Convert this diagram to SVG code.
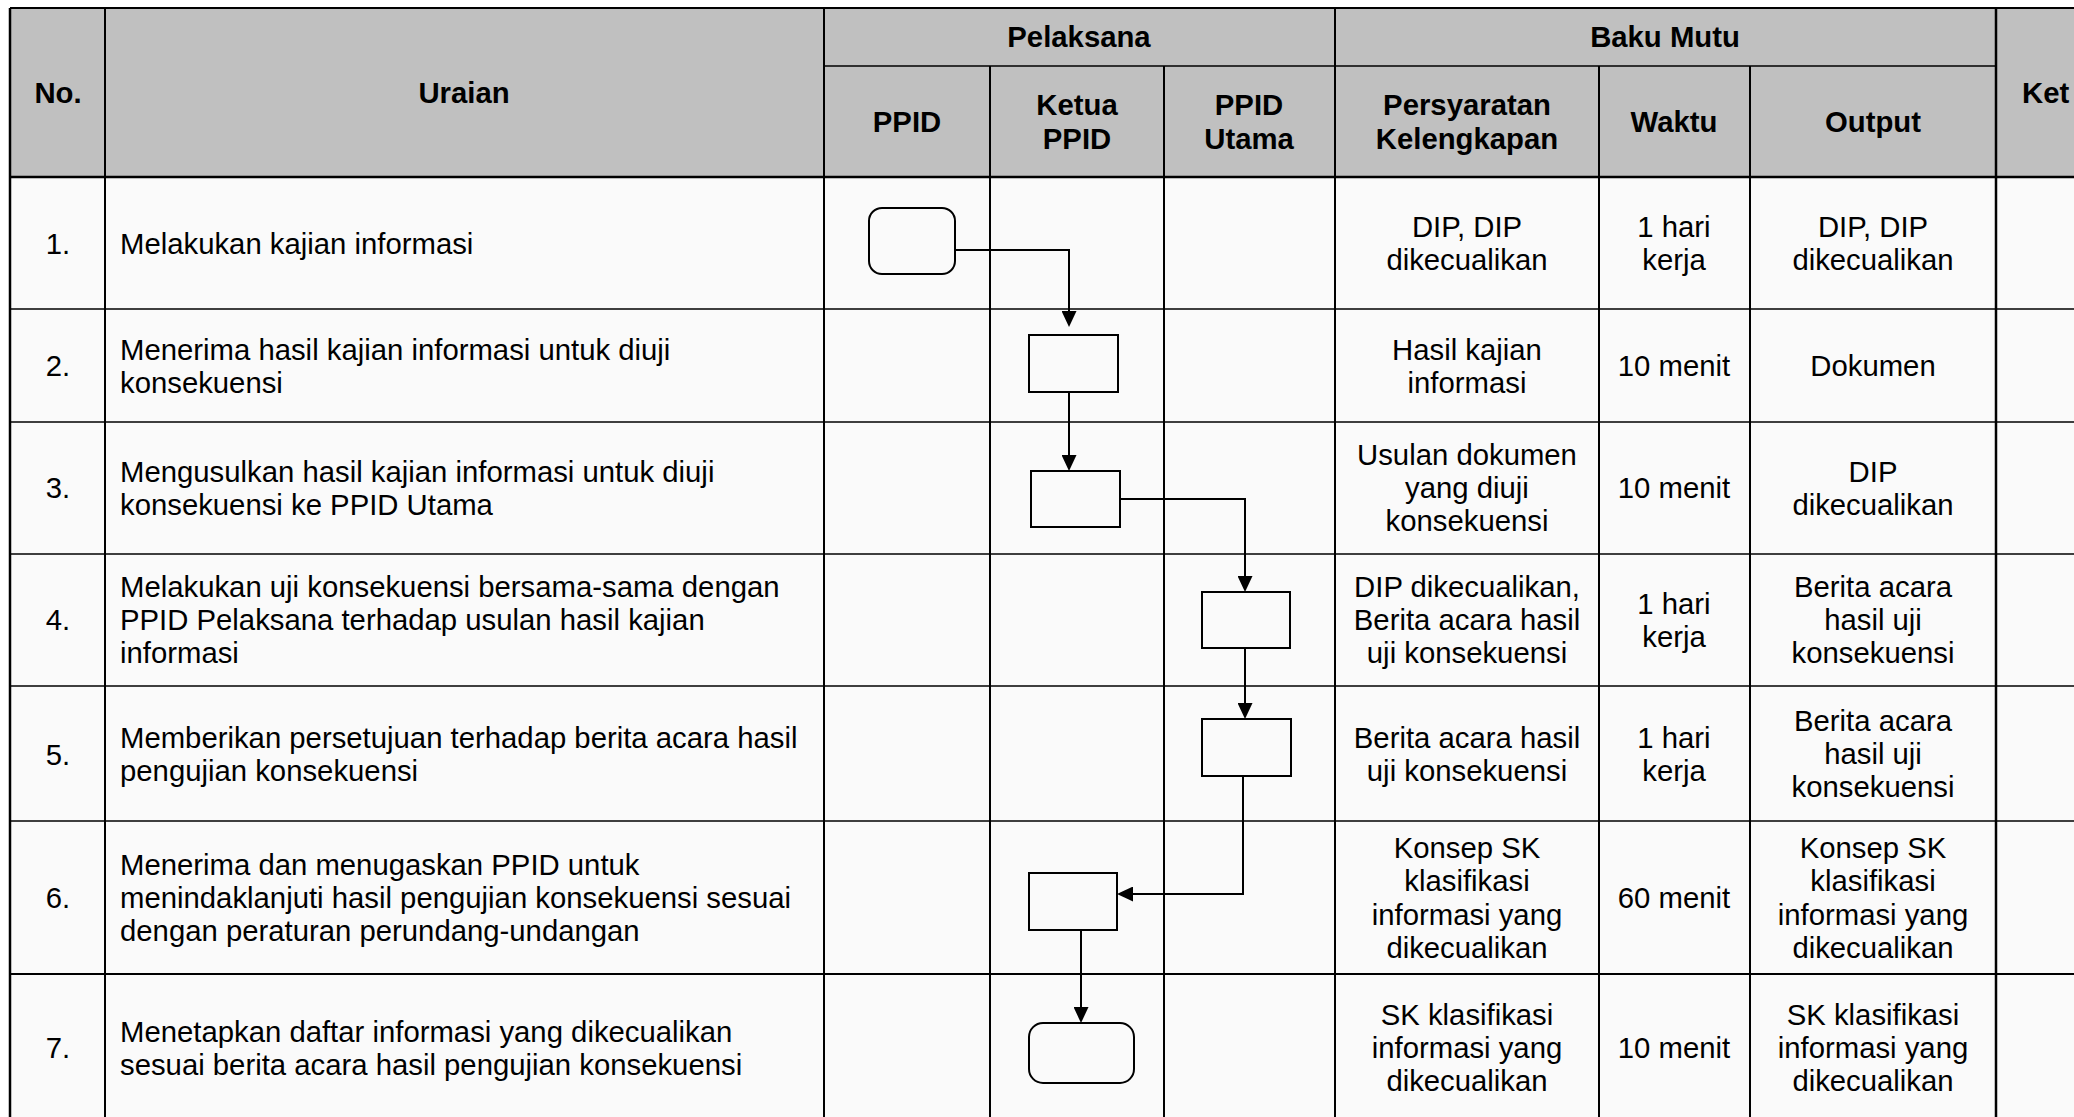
<svg xmlns="http://www.w3.org/2000/svg" width="2074" height="1117" viewBox="0 0 2074 1117">
<style>
text{font-family:"Liberation Sans",Arial,sans-serif;font-size:29.3px;fill:#000}
.h{font-weight:bold;text-anchor:middle}
.c{text-anchor:middle}
.grid line{stroke:#000;stroke-width:1.3}
.grid .v{stroke-width:2}
.grid .t{stroke-width:2.5}
.shape{fill:none;stroke:#000;stroke-width:2}
.conn path{fill:none;stroke:#000;stroke-width:2}
</style>
<defs>
<marker id="arr" markerUnits="userSpaceOnUse" markerWidth="16" markerHeight="15" refX="12" refY="7.5" orient="auto">
<path d="M0,0 L16,7.5 L0,15 z" fill="#000"/>
</marker>
</defs>
<rect x="0" y="0" width="2074" height="1117" fill="#fff"/>
<rect x="10" y="8" width="2064" height="169" fill="#c0c0c0"/>
<rect x="10" y="177" width="2064" height="940" fill="#fafafa"/>
<g class="grid">
<line class="v" x1="10" y1="8" x2="2074" y2="8"/>
<line x1="824" y1="66" x2="1996" y2="66"/>
<line class="t" x1="10" y1="177" x2="2074" y2="177"/>
<line x1="10" y1="309" x2="2074" y2="309"/>
<line x1="10" y1="422" x2="2074" y2="422"/>
<line x1="10" y1="554" x2="2074" y2="554"/>
<line x1="10" y1="686" x2="2074" y2="686"/>
<line x1="10" y1="821" x2="2074" y2="821"/>
<line class="v" x1="10" y1="974" x2="2074" y2="974"/>
<line class="t" x1="10" y1="8" x2="10" y2="1117"/>
<line class="v" x1="105" y1="8" x2="105" y2="1117"/>
<line class="v" x1="824" y1="8" x2="824" y2="1117"/>
<line class="v" x1="990" y1="66" x2="990" y2="1117"/>
<line class="v" x1="1164" y1="66" x2="1164" y2="1117"/>
<line class="v" x1="1335" y1="8" x2="1335" y2="1117"/>
<line class="v" x1="1599" y1="66" x2="1599" y2="1117"/>
<line class="v" x1="1750" y1="66" x2="1750" y2="1117"/>
<line class="t" x1="1996" y1="8" x2="1996" y2="1117"/>
</g>
<g id="header">
<text class="h" x="58" y="103">No.</text>
<text class="h" x="464" y="103">Uraian</text>
<text class="h" x="1079" y="47">Pelaksana</text>
<text class="h" x="1665" y="47">Baku Mutu</text>
<text x="2022" y="103" style="font-weight:bold">Ket</text>
<text class="h" x="907" y="132">PPID</text>
<text class="h" x="1077" y="115">Ketua</text>
<text class="h" x="1077" y="149">PPID</text>
<text class="h" x="1249" y="115">PPID</text>
<text class="h" x="1249" y="149">Utama</text>
<text class="h" x="1467" y="115">Persyaratan</text>
<text class="h" x="1467" y="149">Kelengkapan</text>
<text class="h" x="1674" y="132">Waktu</text>
<text class="h" x="1873" y="132">Output</text>
</g>
<g id="row1">
<text class="c" x="58" y="254">1.</text>
<text x="120" y="254">Melakukan kajian informasi</text>
<text class="c" x="1467" y="237">DIP, DIP</text>
<text class="c" x="1467" y="270">dikecualikan</text>
<text class="c" x="1674" y="237">1 hari</text>
<text class="c" x="1674" y="270">kerja</text>
<text class="c" x="1873" y="237">DIP, DIP</text>
<text class="c" x="1873" y="270">dikecualikan</text>
</g>
<g id="row2">
<text class="c" x="58" y="376">2.</text>
<text x="120" y="360">Menerima hasil kajian informasi untuk diuji</text>
<text x="120" y="393">konsekuensi</text>
<text class="c" x="1467" y="360">Hasil kajian</text>
<text class="c" x="1467" y="393">informasi</text>
<text class="c" x="1674" y="376">10 menit</text>
<text class="c" x="1873" y="376">Dokumen</text>
</g>
<g id="row3">
<text class="c" x="58" y="498">3.</text>
<text x="120" y="482">Mengusulkan hasil kajian informasi untuk diuji</text>
<text x="120" y="515">konsekuensi ke PPID Utama</text>
<text class="c" x="1467" y="465">Usulan dokumen</text>
<text class="c" x="1467" y="498">yang diuji</text>
<text class="c" x="1467" y="531">konsekuensi</text>
<text class="c" x="1674" y="498">10 menit</text>
<text class="c" x="1873" y="482">DIP</text>
<text class="c" x="1873" y="515">dikecualikan</text>
</g>
<g id="row4">
<text class="c" x="58" y="630">4.</text>
<text x="120" y="597">Melakukan uji konsekuensi bersama-sama dengan</text>
<text x="120" y="630">PPID Pelaksana terhadap usulan hasil kajian</text>
<text x="120" y="663">informasi</text>
<text class="c" x="1467" y="597">DIP dikecualikan,</text>
<text class="c" x="1467" y="630">Berita acara hasil</text>
<text class="c" x="1467" y="663">uji konsekuensi</text>
<text class="c" x="1674" y="614">1 hari</text>
<text class="c" x="1674" y="647">kerja</text>
<text class="c" x="1873" y="597">Berita acara</text>
<text class="c" x="1873" y="630">hasil uji</text>
<text class="c" x="1873" y="663">konsekuensi</text>
</g>
<g id="row5">
<text class="c" x="58" y="765">5.</text>
<text x="120" y="748">Memberikan persetujuan terhadap berita acara hasil</text>
<text x="120" y="781">pengujian konsekuensi</text>
<text class="c" x="1467" y="748">Berita acara hasil</text>
<text class="c" x="1467" y="781">uji konsekuensi</text>
<text class="c" x="1674" y="748">1 hari</text>
<text class="c" x="1674" y="781">kerja</text>
<text class="c" x="1873" y="731">Berita acara</text>
<text class="c" x="1873" y="764">hasil uji</text>
<text class="c" x="1873" y="797">konsekuensi</text>
</g>
<g id="row6">
<text class="c" x="58" y="908">6.</text>
<text x="120" y="875">Menerima dan menugaskan PPID untuk</text>
<text x="120" y="908">menindaklanjuti hasil pengujian konsekuensi sesuai</text>
<text x="120" y="941">dengan peraturan perundang-undangan</text>
<text class="c" x="1467" y="858">Konsep SK</text>
<text class="c" x="1467" y="891">klasifikasi</text>
<text class="c" x="1467" y="925">informasi yang</text>
<text class="c" x="1467" y="958">dikecualikan</text>
<text class="c" x="1674" y="908">60 menit</text>
<text class="c" x="1873" y="858">Konsep SK</text>
<text class="c" x="1873" y="891">klasifikasi</text>
<text class="c" x="1873" y="925">informasi yang</text>
<text class="c" x="1873" y="958">dikecualikan</text>
</g>
<g id="row7">
<text class="c" x="58" y="1058">7.</text>
<text x="120" y="1042">Menetapkan daftar informasi yang dikecualikan</text>
<text x="120" y="1075">sesuai berita acara hasil pengujian konsekuensi</text>
<text class="c" x="1467" y="1025">SK klasifikasi</text>
<text class="c" x="1467" y="1058">informasi yang</text>
<text class="c" x="1467" y="1091">dikecualikan</text>
<text class="c" x="1674" y="1058">10 menit</text>
<text class="c" x="1873" y="1025">SK klasifikasi</text>
<text class="c" x="1873" y="1058">informasi yang</text>
<text class="c" x="1873" y="1091">dikecualikan</text>
</g>
<g id="node1"><rect class="shape" x="869" y="208" width="86" height="66" rx="13"/></g>
<g id="node2"><rect class="shape" x="1029" y="335" width="89" height="57"/></g>
<g id="node3"><rect class="shape" x="1031" y="471" width="89" height="56"/></g>
<g id="node4"><rect class="shape" x="1202" y="592" width="88" height="56"/></g>
<g id="node5"><rect class="shape" x="1202" y="719" width="89" height="57"/></g>
<g id="node6"><rect class="shape" x="1029" y="873" width="88" height="57"/></g>
<g id="node7"><rect class="shape" x="1029" y="1023" width="105" height="60" rx="14"/></g>
<g id="connectors" class="conn">
<path d="M955,250 H1069 V323" marker-end="url(#arr)"/>
<path d="M1069,392 V467" marker-end="url(#arr)"/>
<path d="M1120,499 H1245 V588" marker-end="url(#arr)"/>
<path d="M1245,648 V715" marker-end="url(#arr)"/>
<path d="M1243,776 V894 H1121" marker-end="url(#arr)"/>
<path d="M1081,930 V1019" marker-end="url(#arr)"/>
</g>
</svg>
